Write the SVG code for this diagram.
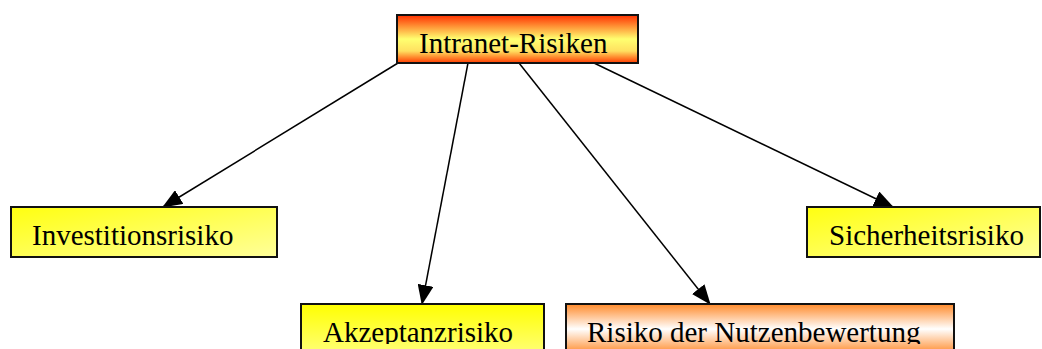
<svg xmlns="http://www.w3.org/2000/svg" width="1042" height="349" viewBox="0 0 1042 349">
  <style>
    .box { stroke: #111; stroke-width: 2; }
    .label { font-family: "Liberation Serif", "Times New Roman", serif; font-size: 29px; fill: #000; }
    .edge { stroke: #000; stroke-width: 1.5; fill: none; marker-end: url(#arrow); }
  </style>
  <defs>
    <marker id="arrow" markerUnits="userSpaceOnUse" markerWidth="20" markerHeight="16" viewBox="0 0 20 16" refX="19" refY="8" orient="auto">
      <path d="M0,0 L20,8 L0,16 Z" fill="#000"/>
    </marker>
    <!-- red edges, yellow centre -->
    <linearGradient id="gRoot" x1="0" y1="0" x2="0" y2="1">
      <stop offset="0" stop-color="#ff3000"/>
      <stop offset="0.5" stop-color="#ffff70"/>
      <stop offset="0.75" stop-color="#ffe060"/>
      <stop offset="1" stop-color="#ff3a00"/>
    </linearGradient>
    <linearGradient id="gYellow" x1="0" y1="0" x2="0" y2="1">
      <stop offset="0" stop-color="#ffff00"/>
      <stop offset="1" stop-color="#ffff90"/>
    </linearGradient>
    <linearGradient id="gYellowDiag" x1="0" y1="0" x2="1" y2="1">
      <stop offset="0" stop-color="#ffff10"/>
      <stop offset="1" stop-color="#ffff9a"/>
    </linearGradient>
    <!-- orange edges, white centre -->
    <linearGradient id="gOrange" gradientUnits="userSpaceOnUse" x1="0" y1="304" x2="0" y2="354">
      <stop offset="0" stop-color="#ff8a2a"/>
      <stop offset="0.5" stop-color="#ffffff"/>
      <stop offset="1" stop-color="#ff8a2a"/>
    </linearGradient>
    <clipPath id="bottomClip">
      <rect x="0" y="0" width="1042" height="344"/>
    </clipPath>
  </defs>

  <g id="connectors">
    <line class="edge" x1="398" y1="63" x2="163" y2="207"/>
    <line class="edge" x1="468" y1="63" x2="422" y2="304"/>
    <line class="edge" x1="519" y1="63" x2="710" y2="304"/>
    <line class="edge" x1="594" y1="63" x2="893" y2="207"/>
  </g>

  <g id="intranet-risiken">
    <rect class="box" x="397" y="15" width="241" height="48" fill="url(#gRoot)"/>
    <text class="label" x="419" y="53">Intranet-Risiken</text>
  </g>

  <g id="investitionsrisiko">
    <rect class="box" x="11" y="207" width="266" height="50" fill="url(#gYellowDiag)"/>
    <text class="label" x="32" y="245">Investitionsrisiko</text>
  </g>

  <g id="sicherheitsrisiko">
    <rect class="box" x="807" y="207" width="233" height="50" fill="url(#gYellowDiag)"/>
    <text class="label" x="829" y="245">Sicherheitsrisiko</text>
  </g>

  <g id="akzeptanzrisiko">
    <rect class="box" x="301" y="304" width="243" height="60" fill="url(#gYellow)"/>
    <text class="label" x="323" y="342" clip-path="url(#bottomClip)">Akzeptanzrisiko</text>
  </g>

  <g id="nutzenbewertung">
    <rect class="box" x="566" y="304" width="388" height="60" fill="url(#gOrange)"/>
    <text class="label" x="587" y="342" clip-path="url(#bottomClip)">Risiko der Nutzenbewertung</text>
  </g>
</svg>
